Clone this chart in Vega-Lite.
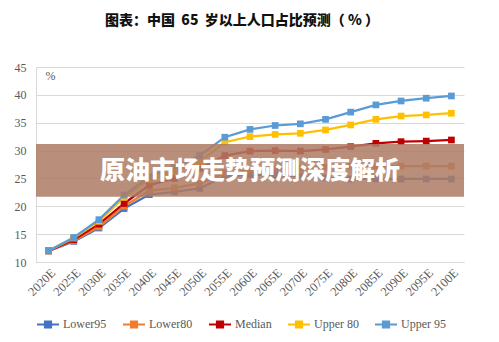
{
  "$schema": "https://vega.github.io/schema/vega-lite/v6.json",
  "width": 428,
  "height": 195,
  "autosize": {"type": "none"},
  "padding": {"left": 36, "top": 67, "right": 35, "bottom": 80},
  "background": "white",
  "title": {
    "text": "图表：中国\u00a0\u00a065\u00a0\u00a0岁以上人口占比预测（\u00a0%\u00a0）",
    "font": "Noto Sans CJK SC",
    "fontSize": 14,
    "fontWeight": 900,
    "color": "#111111",
    "anchor": "middle",
    "offset": 33,
    "dx": -8
  },
  "config": {
    "view": {"stroke": null},
    "axis": {
      "labelFont": "Liberation Serif, Times New Roman, serif",
      "labelFontSize": 12,
      "labelColor": "#595959",
      "gridColor": "#D9D9D9",
      "domainColor": "#D9D9D9",
      "ticks": false,
      "labelOverlap": false
    },
    "axisX": {"labelFontSize": 12.5},
    "legend": {
      "labelFont": "Liberation Serif, Times New Roman, serif",
      "labelFontSize": 12,
      "labelColor": "#595959"
    }
  },
  "datasets": {
    "series": [
      {"year": "2020E", "series": "Lower95", "value": 12.0},
      {"year": "2025E", "series": "Lower95", "value": 13.7},
      {"year": "2030E", "series": "Lower95", "value": 16.1},
      {"year": "2035E", "series": "Lower95", "value": 19.6},
      {"year": "2040E", "series": "Lower95", "value": 22.1},
      {"year": "2045E", "series": "Lower95", "value": 22.6},
      {"year": "2050E", "series": "Lower95", "value": 23.2},
      {"year": "2055E", "series": "Lower95", "value": 25.4},
      {"year": "2060E", "series": "Lower95", "value": 25.7},
      {"year": "2065E", "series": "Lower95", "value": 25.6},
      {"year": "2070E", "series": "Lower95", "value": 25.4},
      {"year": "2075E", "series": "Lower95", "value": 25.1},
      {"year": "2080E", "series": "Lower95", "value": 24.9},
      {"year": "2085E", "series": "Lower95", "value": 24.9},
      {"year": "2090E", "series": "Lower95", "value": 24.9},
      {"year": "2095E", "series": "Lower95", "value": 24.9},
      {"year": "2100E", "series": "Lower95", "value": 24.9},
      {"year": "2020E", "series": "Lower80", "value": 12.0},
      {"year": "2025E", "series": "Lower80", "value": 13.8},
      {"year": "2030E", "series": "Lower80", "value": 16.3},
      {"year": "2035E", "series": "Lower80", "value": 20.0},
      {"year": "2040E", "series": "Lower80", "value": 22.8},
      {"year": "2045E", "series": "Lower80", "value": 23.3},
      {"year": "2050E", "series": "Lower80", "value": 24.1},
      {"year": "2055E", "series": "Lower80", "value": 26.0},
      {"year": "2060E", "series": "Lower80", "value": 26.5},
      {"year": "2065E", "series": "Lower80", "value": 26.7},
      {"year": "2070E", "series": "Lower80", "value": 26.8},
      {"year": "2075E", "series": "Lower80", "value": 27.0},
      {"year": "2080E", "series": "Lower80", "value": 27.2},
      {"year": "2085E", "series": "Lower80", "value": 27.2},
      {"year": "2090E", "series": "Lower80", "value": 27.2},
      {"year": "2095E", "series": "Lower80", "value": 27.2},
      {"year": "2100E", "series": "Lower80", "value": 27.2},
      {"year": "2020E", "series": "Median", "value": 12.0},
      {"year": "2025E", "series": "Median", "value": 14.0},
      {"year": "2030E", "series": "Median", "value": 16.8},
      {"year": "2035E", "series": "Median", "value": 20.5},
      {"year": "2040E", "series": "Median", "value": 23.8},
      {"year": "2045E", "series": "Median", "value": 25.0},
      {"year": "2050E", "series": "Median", "value": 26.8},
      {"year": "2055E", "series": "Median", "value": 29.1},
      {"year": "2060E", "series": "Median", "value": 29.9},
      {"year": "2065E", "series": "Median", "value": 30.0},
      {"year": "2070E", "series": "Median", "value": 29.9},
      {"year": "2075E", "series": "Median", "value": 30.2},
      {"year": "2080E", "series": "Median", "value": 30.7},
      {"year": "2085E", "series": "Median", "value": 31.3},
      {"year": "2090E", "series": "Median", "value": 31.6},
      {"year": "2095E", "series": "Median", "value": 31.7},
      {"year": "2100E", "series": "Median", "value": 31.9},
      {"year": "2020E", "series": "Upper 80", "value": 12.0},
      {"year": "2025E", "series": "Upper 80", "value": 14.3},
      {"year": "2030E", "series": "Upper 80", "value": 17.3},
      {"year": "2035E", "series": "Upper 80", "value": 21.6},
      {"year": "2040E", "series": "Upper 80", "value": 24.8},
      {"year": "2045E", "series": "Upper 80", "value": 26.3},
      {"year": "2050E", "series": "Upper 80", "value": 28.0},
      {"year": "2055E", "series": "Upper 80", "value": 31.5},
      {"year": "2060E", "series": "Upper 80", "value": 32.5},
      {"year": "2065E", "series": "Upper 80", "value": 32.9},
      {"year": "2070E", "series": "Upper 80", "value": 33.1},
      {"year": "2075E", "series": "Upper 80", "value": 33.7},
      {"year": "2080E", "series": "Upper 80", "value": 34.6},
      {"year": "2085E", "series": "Upper 80", "value": 35.6},
      {"year": "2090E", "series": "Upper 80", "value": 36.2},
      {"year": "2095E", "series": "Upper 80", "value": 36.4},
      {"year": "2100E", "series": "Upper 80", "value": 36.7},
      {"year": "2020E", "series": "Upper 95", "value": 12.0},
      {"year": "2025E", "series": "Upper 95", "value": 14.4},
      {"year": "2030E", "series": "Upper 95", "value": 17.6},
      {"year": "2035E", "series": "Upper 95", "value": 22.0},
      {"year": "2040E", "series": "Upper 95", "value": 25.3},
      {"year": "2045E", "series": "Upper 95", "value": 27.0},
      {"year": "2050E", "series": "Upper 95", "value": 29.1},
      {"year": "2055E", "series": "Upper 95", "value": 32.4},
      {"year": "2060E", "series": "Upper 95", "value": 33.8},
      {"year": "2065E", "series": "Upper 95", "value": 34.5},
      {"year": "2070E", "series": "Upper 95", "value": 34.8},
      {"year": "2075E", "series": "Upper 95", "value": 35.6},
      {"year": "2080E", "series": "Upper 95", "value": 36.9},
      {"year": "2085E", "series": "Upper 95", "value": 38.2},
      {"year": "2090E", "series": "Upper 95", "value": 38.9},
      {"year": "2095E", "series": "Upper 95", "value": 39.4},
      {"year": "2100E", "series": "Upper 95", "value": 39.8}
    ]
  },
  "layer": [
    {
      "data": {"name": "series"},
      "mark": {"type": "line", "strokeWidth": 2.25},
      "encoding": {
        "x": {
          "field": "year", "type": "ordinal",
          "scale": {"type": "point", "padding": 0.5},
          "axis": {"title": null, "labelAngle": -45, "grid": false, "labelPadding": 4}
        },
        "y": {
          "field": "value", "type": "quantitative",
          "scale": {"domain": [10, 45]},
          "axis": {"title": null, "values": [10, 15, 20, 25, 30, 35, 40, 45], "labelPadding": 10}
        },
        "color": {
          "field": "series", "type": "nominal",
          "scale": {
            "domain": ["Lower95", "Lower80", "Median", "Upper 80", "Upper 95"],
            "range": ["#4472C4", "#ED7D31", "#C00000", "#FFC000", "#5B9BD5"]
          },
          "legend": {
            "title": null,
            "orient": "bottom",
            "direction": "horizontal",
            "offset": 14,
            "symbolType": "M-1,0H1M-0.28,-0.28H0.28V0.28H-0.28Z",
            "symbolSize": 484,
            "symbolStrokeWidth": 2,
            "columnPadding": 12,
            "labelOffset": 3
          }
        }
      }
    },
    {
      "data": {"name": "series"},
      "mark": {"type": "point", "shape": "square", "filled": true, "size": 45, "opacity": 1},
      "encoding": {
        "x": {"field": "year", "type": "ordinal", "axis": {"title": null, "labelAngle": -45, "grid": false, "labelPadding": 4}},
        "y": {"field": "value", "type": "quantitative", "axis": {"title": null, "values": [10, 15, 20, 25, 30, 35, 40, 45], "labelPadding": 10}},
        "color": {"field": "series", "type": "nominal"}
      }
    },
    {
      "data": {"values": [{"year": "2020E", "value": 43.3, "label": "%"}]},
      "mark": {"type": "text", "font": "Liberation Serif, Times New Roman, serif", "fontSize": 12, "color": "#595959", "align": "center", "baseline": "middle", "dx": 2},
      "encoding": {
        "x": {"field": "year", "type": "ordinal", "axis": {"title": null, "labelAngle": -45, "grid": false, "labelPadding": 4}},
        "y": {"field": "value", "type": "quantitative", "axis": {"title": null, "values": [10, 15, 20, 25, 30, 35, 40, 45], "labelPadding": 10}},
        "text": {"field": "label"}
      }
    },
    {
      "data": {"values": [{"value": 31.2, "value2": 21.7}]},
      "mark": {"type": "rect", "color": "#AE7C64", "opacity": 0.86},
      "encoding": {
        "y": {"field": "value", "type": "quantitative", "axis": {"title": null, "values": [10, 15, 20, 25, 30, 35, 40, 45], "labelPadding": 10}},
        "y2": {"field": "value2"}
      }
    },
    {
      "data": {"values": [{"value": 26.4, "label": "原油市场走势预测深度解析"}]},
      "mark": {"type": "text", "font": "Noto Sans CJK SC", "fontSize": 25, "fontWeight": 900, "color": "white", "align": "center", "baseline": "middle"},
      "encoding": {
        "y": {"field": "value", "type": "quantitative", "axis": {"title": null, "values": [10, 15, 20, 25, 30, 35, 40, 45], "labelPadding": 10}},
        "text": {"field": "label"}
      }
    }
  ]
}
